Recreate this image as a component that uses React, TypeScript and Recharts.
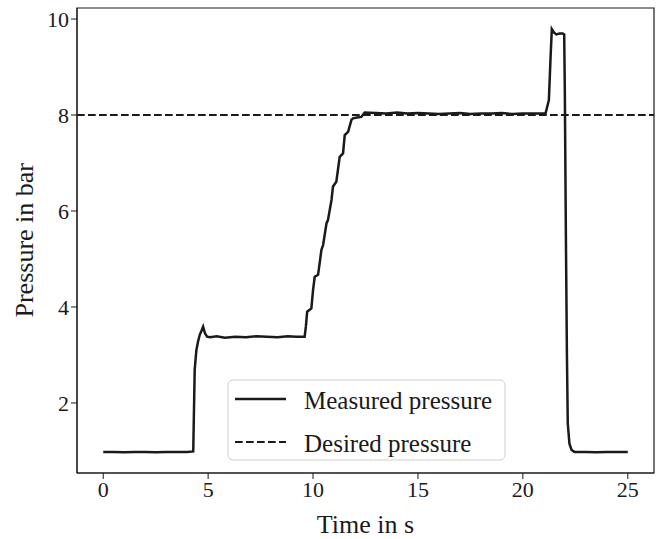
import { LineChart, Line, XAxis, YAxis, ReferenceLine, ReferenceArea } from 'recharts';

const timeS = [
  0, 0.5, 1, 1.5, 2, 2.5, 3, 3.5, 4, 4.29, 4.36, 4.44, 4.52, 4.6, 4.68, 4.76, 4.85, 4.95, 5.1, 5.4,
  5.8, 6.3, 6.8, 7.3, 7.8, 8.3, 8.8, 9.2, 9.6, 9.66, 9.72, 9.92, 10.0, 10.08, 10.24, 10.4, 10.48,
  10.64, 10.71, 10.88, 10.95, 11.11, 11.27, 11.43, 11.51, 11.67, 11.83, 11.9, 12.1, 12.3, 12.46,
  13, 13.5, 14, 14.5, 15, 15.5, 16, 16.5, 17, 17.5, 18, 18.5, 19, 19.5, 20, 20.5, 21.08, 21.24,
  21.32, 21.38, 21.48, 21.59, 21.75, 21.9, 21.97, 22.0, 22.05, 22.1, 22.14, 22.22, 22.32, 22.46,
  23, 23.5, 24, 24.5, 25,
];

const measured = [
  0.98, 0.98, 0.97, 0.98, 0.98, 0.97, 0.98, 0.98, 0.98, 0.99, 2.7, 3.1, 3.28, 3.42, 3.5, 3.59,
  3.45, 3.38, 3.37, 3.39, 3.36, 3.38, 3.37, 3.39, 3.38, 3.37, 3.39, 3.38, 3.38, 3.6, 3.9, 3.97,
  4.35, 4.63, 4.67, 5.19, 5.29, 5.74, 5.81, 6.23, 6.51, 6.61, 7.13, 7.2, 7.58, 7.65, 7.9, 7.93,
  7.95, 7.96, 8.05, 8.04, 8.03, 8.05, 8.03, 8.04, 8.03, 8.02, 8.03, 8.04, 8.02, 8.03, 8.03, 8.04,
  8.02, 8.03, 8.03, 8.03, 8.31, 9.2, 9.79, 9.72, 9.68, 9.7, 9.7, 9.68, 8.5, 5.5, 3.0, 1.58,
  1.15, 1.02, 0.98, 0.98, 0.97, 0.98, 0.98, 0.98,
];

const desiredPressure = 8;
const xTicks = [0, 5, 10, 15, 20, 25];
const yTicks = [2, 4, 6, 8, 10];
const legendLabels = ['Measured pressure', 'Desired pressure'];

const data = timeS.map((t, i) => ({ t, p: measured[i] }));

const FONT = '"Liberation Serif", "DejaVu Serif", serif';
const INK = '#1a1a1a';
const DASH = '7.7 3.3';

// legend drawn as a small svg over the chart, like matplotlib's framed legend
function LegendBox() {
  return (
    <svg
      width={280}
      height={84}
      style={{ position: 'absolute', left: 227, top: 379 }}
    >
      <rect x={1} y={1} width={277} height={80} rx={5} fill="rgba(255,255,255,0.85)" stroke="#d0d0d0" />
      <line x1={8} x2={59} y1={20} y2={20} stroke={INK} strokeWidth={2.5} />
      <line x1={8} x2={59} y1={63} y2={63} stroke={INK} strokeWidth={2.2} strokeDasharray={DASH} />
      <text x={77} y={30} fontFamily={FONT} fontSize={25} fill={INK}>{legendLabels[0]}</text>
      <text x={77} y={73} fontFamily={FONT} fontSize={25} fill={INK}>{legendLabels[1]}</text>
    </svg>
  );
}

export default function App() {
  return (
    <div style={{ position: 'absolute', left: 0, top: 0, width: 662, height: 539, background: '#fff' }}>
      <LineChart width={662} height={539} data={data} margin={{ top: 8, right: 8, bottom: 0, left: 0 }}>
        <XAxis
          dataKey="t"
          type="number"
          domain={[-1.25, 26.25]}
          ticks={xTicks}
          allowDataOverflow
          height={66}
          stroke={INK}
          tickSize={6}
          tick={{ fontSize: 22, fill: INK, fontFamily: FONT }}
          label={{ value: 'Time in s', position: 'insideBottom', offset: 6, fontSize: 26, fill: INK, fontFamily: FONT }}
        />
        <YAxis
          type="number"
          domain={[0.54, 10.23]}
          ticks={yTicks}
          allowDataOverflow
          width={77}
          stroke={INK}
          tickSize={6}
          tick={{ fontSize: 22, fill: INK, fontFamily: FONT }}
          label={{ value: 'Pressure in bar', angle: -90, position: 'insideLeft', offset: 24, dy: 77, fontSize: 26, fill: INK, fontFamily: FONT }}
        />
        <ReferenceArea x1={-1.25} x2={26.25} y1={0.54} y2={10.23} fill="none" stroke={INK} strokeWidth={1.2} />
        <ReferenceLine y={desiredPressure} stroke={INK} strokeWidth={2.2} strokeDasharray={DASH} />
        <Line
          dataKey="p"
          type="linear"
          stroke={INK}
          strokeWidth={2.5}
          dot={false}
          isAnimationActive={false}
        />
      </LineChart>
      <LegendBox />
    </div>
  );
}
